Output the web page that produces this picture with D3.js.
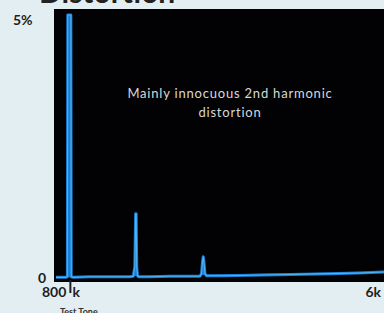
<!DOCTYPE html>
<html><head><meta charset="utf-8">
<script src="https://cdn.jsdelivr.net/npm/d3@7"></script>
<style>
html,body{margin:0;padding:0;background:#e3eef3;}
svg{display:block;}
</style></head>
<body>
<svg id="c" width="384" height="313"></svg>
<script>
// Data (frequency in Hz, level in % distortion)
const freqs  = [800, 900, 950, 970, 976, 1022, 1028, 1060, 1300, 1600, 1900, 1955, 1978, 1990, 1998, 2006, 2018, 2035, 2200, 2500, 2800, 2950, 2975, 2990, 3000, 3010, 3025, 3050, 3300, 3700, 4100, 4500, 4900, 5300, 5700, 6000];
const levels = [0.05, 0.05, 0.05, 0.06, 5.0, 5.0, 0.06, 0.05, 0.06, 0.06, 0.06, 0.07, 0.25, 1.25, 1.25, 0.25, 0.08, 0.06, 0.06, 0.07, 0.07, 0.07, 0.12, 0.35, 0.44, 0.35, 0.12, 0.08, 0.08, 0.09, 0.10, 0.11, 0.12, 0.13, 0.15, 0.16];
const yTickValues = [0, 5];
const yTickLabels = ["0", "5%"];
const xTickValues = [800, 1000, 6000];
const xTickLabels = ["800", "1k", "6k"];
const titleText = "Distortion";
const noteLines = ["Mainly innocuous 2nd harmonic", "distortion"];
const toneLabel = "Test Tone";

const svg = d3.select("#c");
const plot = {x0: 54, x1: 384, y0: 9, y1: 282};
const x = d3.scaleLinear().domain([800, 6000]).range([56, 404]);
const y = d3.scaleLinear().domain([0, 5]).range([280, 15]);
const font = "Lato, 'Open Sans', sans-serif";

// title (cropped at top)
svg.append("text").attr("x", 39).attr("y", 3)
  .attr("font-family", font).attr("font-weight", 700)
  .attr("font-size", 30).attr("fill", "#222").text(titleText);

// plot background
svg.append("rect").attr("x", plot.x0).attr("y", plot.y0)
  .attr("width", plot.x1 - plot.x0).attr("height", plot.y1 - plot.y0).attr("fill", "#020204");

svg.append("clipPath").attr("id", "clip").append("rect")
  .attr("x", plot.x0).attr("y", plot.y0).attr("width", plot.x1 - plot.x0).attr("height", plot.y1 - plot.y0);

const pts = freqs.map((f, i) => [f, levels[i]]);
const line = d3.line().x(d => x(d[0])).y(d => y(d[1]));
const g = svg.append("g").attr("clip-path", "url(#clip)");
g.append("path").datum(pts).attr("d", line).attr("fill", "#1a7fd4")
  .attr("stroke", "#1a7fd4").attr("stroke-width", 3).attr("stroke-linejoin", "round");
g.append("path").datum(pts).attr("d", line).attr("fill", "none")
  .attr("stroke", "#4db3f2").attr("stroke-width", 1.1).attr("stroke-linejoin", "round");

// annotation
const note = svg.append("text").attr("font-family", font)
  .attr("font-size", 13).attr("letter-spacing", 0.8).attr("fill", "#d8d8d8").attr("text-anchor", "middle");
noteLines.forEach((t, i) => note.append("tspan").attr("x", 230).attr("y", 98 + i * 19).text(t));

// y labels
function label(t) {
  return t.attr("font-family", font).attr("font-weight", 700).attr("fill", "#1e1e1e").attr("font-size", 14);
}
yTickValues.forEach((v, i) => {
  const t = label(svg.append("text").text(yTickLabels[i]));
  if (v === 5) t.attr("x", 13).attr("y", 25);
  else t.attr("x", 38).attr("y", 283);
});

// x tick mark at 1k
svg.append("line").attr("x1", x(1000) + 1).attr("x2", x(1000) + 1).attr("y1", 280).attr("y2", 293)
  .attr("stroke", "#1e1e1e").attr("stroke-width", 2);

// x labels
xTickValues.forEach((v, i) => {
  if (v === 1000) {
    label(svg.append("text").attr("x", x(v) + 3).attr("y", 297).text(xTickLabels[i].replace("1", "")));
    return;
  }
  const t = label(svg.append("text").attr("y", 297).text(xTickLabels[i]));
  if (v === 800) t.attr("x", x(1000) - 3).attr("text-anchor", "end");
  else t.attr("x", Math.min(x(v), 381)).attr("text-anchor", "end");
});

svg.append("text").attr("x", 60).attr("y", 315).attr("font-family", font)
  .attr("font-size", 9).attr("font-weight", 700).attr("fill", "#333").text(toneLabel);
</script>
</body></html>
